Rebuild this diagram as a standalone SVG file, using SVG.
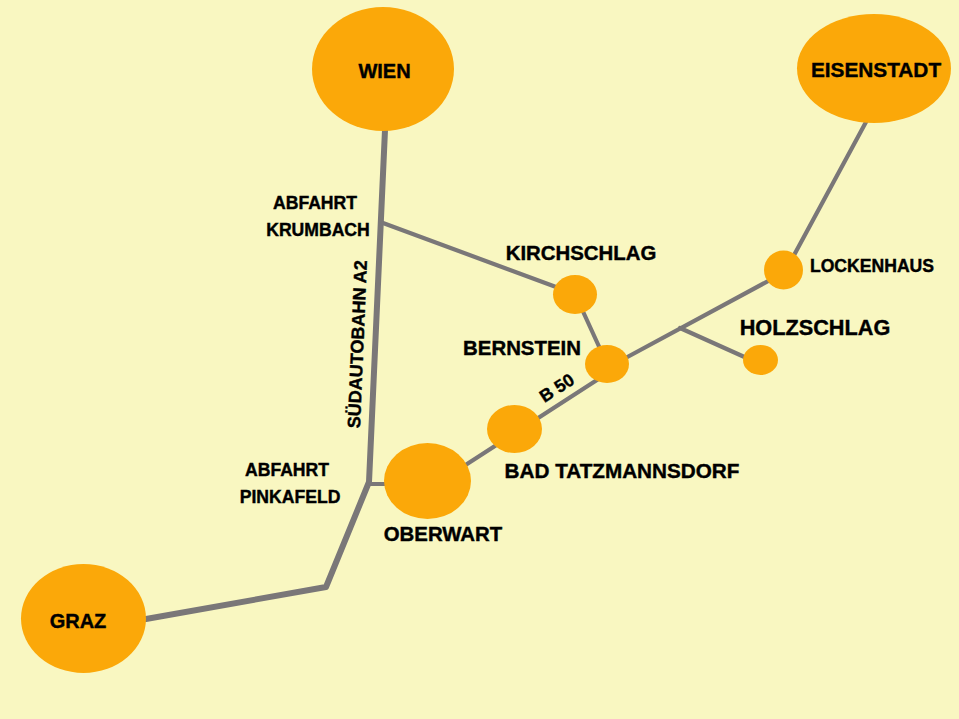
<svg xmlns="http://www.w3.org/2000/svg" width="959" height="719" viewBox="0 0 959 719">
<style>
text{font-family:"Liberation Sans",Arial,sans-serif;font-weight:700;fill:#000;stroke:#000;stroke-width:.4;text-anchor:middle}
.n{fill:#fba809}
.c{fill:none;stroke:#7a7778;stroke-linejoin:round;stroke-linecap:round}
.t{stroke-width:4.200}
.w{stroke-width:6}
.a{font-size:20px}.b{font-size:20.400px}.s{font-size:17.600px}
</style>
<rect width="959" height="719" fill="#f9f7c1"/>
<g id="connectors">
<path class="c w" d="M385 130L369 482L326 587L146 619"/>
<path class="c t" d="M383 223L575 294L607 364"/>
<path class="c t" d="M369 484H400"/>
<path class="c t" d="M440 481.400L607 373.500"/>
<path class="c t" d="M607 368L783 273"/>
<path class="c t" d="M786 270L866 122"/>
<path class="c t" d="M680 328L760 364"/>
</g>
<g id="wien"><ellipse class="n" cx="383" cy="69" rx="71" ry="62"/><text class="a" x="384.500" y="78">WIEN</text></g>
<g id="eisenstadt"><ellipse class="n" cx="874" cy="68.500" rx="77" ry="54.500"/><text style="font-size:20.800px" x="876" y="77">EISENSTADT</text></g>
<g id="graz"><ellipse class="n" cx="83.500" cy="618.500" rx="62.500" ry="54.500"/><text class="a" x="78" y="628">GRAZ</text></g>
<g id="oberwart"><ellipse class="n" cx="427.500" cy="481" rx="43.500" ry="38"/><text class="b" x="443" y="541">OBERWART</text></g>
<g id="bad-tatzmannsdorf"><ellipse class="n" cx="514.500" cy="429" rx="27.500" ry="24"/><text style="font-size:20.700px" x="622" y="478">BAD TATZMANNSDORF</text></g>
<g id="bernstein"><ellipse class="n" cx="607" cy="364" rx="22" ry="19"/><text class="b" x="522" y="355">BERNSTEIN</text></g>
<g id="kirchschlag"><ellipse class="n" cx="575" cy="294.500" rx="22" ry="19.500"/><text class="b" x="581" y="260">KIRCHSCHLAG</text></g>
<g id="lockenhaus"><ellipse class="n" cx="783.500" cy="270" rx="19.500" ry="19.500"/><text class="s" x="872" y="272">LOCKENHAUS</text></g>
<g id="holzschlag"><ellipse class="n" cx="760.500" cy="360" rx="17.500" ry="15"/><text style="font-size:21.700px" x="815" y="335">HOLZSCHLAG</text></g>
<g id="labels">
<text class="s" x="315" y="209">ABFAHRT</text>
<text class="s" x="318" y="236">KRUMBACH</text>
<text class="s" x="287" y="476">ABFAHRT</text>
<text class="s" x="290" y="503">PINKAFELD</text>
<text style="font-size:18px" transform="translate(363.500 344.500) rotate(-87.600)">SÜDAUTOBAHN A2</text>
<text class="s" transform="translate(560 393) rotate(-33)">B 50</text>
</g>
</svg>
